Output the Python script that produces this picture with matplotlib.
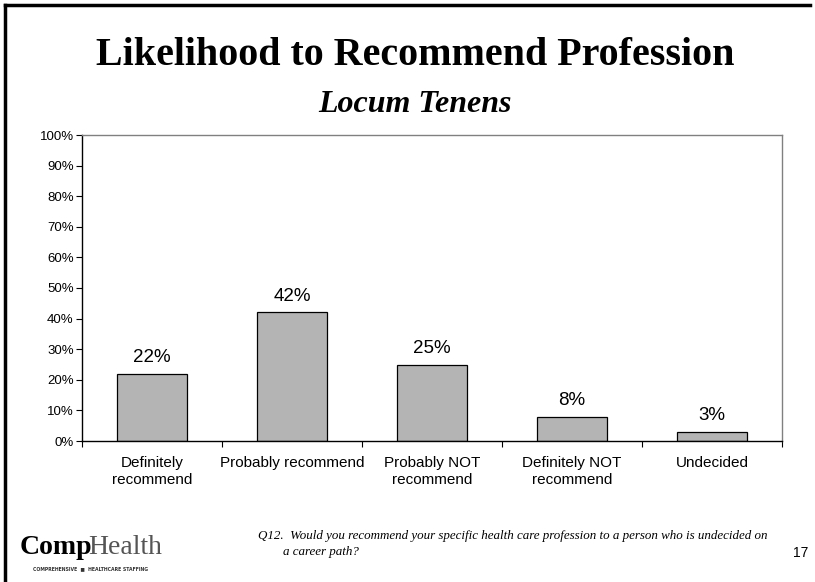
import matplotlib
matplotlib.use("Agg")
import matplotlib.pyplot as plt
from matplotlib.ticker import PercentFormatter
from matplotlib.lines import Line2D

# --- Data ---
categories = ["Definitely\nrecommend", "Probably recommend", "Probably NOT\nrecommend",
              "Definitely NOT\nrecommend", "Undecided"]
values = [22, 42, 25, 8, 3]
yticks = list(range(0, 101, 10))

W, H = 815, 582
fig = plt.figure(figsize=(W / 100, H / 100), dpi=100)
fig.patch.set_facecolor("white")

# --- Slide border (left and top only) ---
fig.add_artist(Line2D([5 / W, 5 / W], [0, 1 - 5 / H], color="black", lw=2.5))
fig.add_artist(Line2D([5 / W, 810 / W], [1 - 5 / H, 1 - 5 / H], color="black", lw=2.5))

# --- Titles ---
fig.text(415 / W, 1 - 65 / H, "Likelihood to Recommend Profession", ha="center", va="baseline",
         fontsize=28.8, fontweight="bold", family="Liberation Serif")
fig.text(415 / W, 1 - 112 / H, "Locum Tenens", ha="center", va="baseline",
         fontsize=23, fontweight="bold", fontstyle="italic", family="Liberation Serif")

# --- Chart ---
left, right, top, bottom = 82, 782, 135, 441
ax = fig.add_axes([left / W, 1 - bottom / H, (right - left) / W, (bottom - top) / H])
x = list(range(len(values)))
ax.bar(x, values, width=0.5, color="#b4b4b4", edgecolor="black", linewidth=0.9)
for xi, v in zip(x, values):
    ax.text(xi, v + 2.6, f"{v}%", ha="center", va="bottom", fontsize=13.5,
            family="Liberation Sans")

ax.set_xlim(-0.5, len(values) - 0.5)
ax.set_ylim(0, 100)
ax.set_yticks(yticks)
ax.yaxis.set_major_formatter(PercentFormatter(decimals=0))
ax.set_xticks([i - 0.5 for i in range(len(values) + 1)])
ax.set_xticklabels([])
ax.set_xticks(x, minor=True)
ax.set_xticklabels(categories, minor=True, fontsize=11, family="Liberation Sans",
                   linespacing=1.25)
ax.tick_params(axis="x", which="minor", length=0, pad=11)
ax.tick_params(axis="x", which="major", length=4, direction="out", width=0.8)
ax.tick_params(axis="y", length=4, direction="out", width=0.8, labelsize=9.5, pad=2)
for lab in ax.get_yticklabels():
    lab.set_family("Liberation Sans")

for s in ["left", "bottom"]:
    ax.spines[s].set_color("black")
    ax.spines[s].set_linewidth(1.0)
for s in ["top", "right"]:
    ax.spines[s].set_color("#808080")
    ax.spines[s].set_linewidth(1.0)

# --- Footer ---
fig.text(20 / W, 1 - 554 / H, "Comp", ha="left", va="baseline", fontsize=20,
         fontweight="bold", family="Liberation Serif")
fig.text(88 / W, 1 - 554 / H, "Health", ha="left", va="baseline", fontsize=20,
         family="Liberation Serif", color="#555555")
fig.text(33 / W, 1 - 569 / H, "COMPREHENSIVE  \u25a0  HEALTHCARE STAFFING", ha="left",
         va="center", fontsize=3.3, family="DejaVu Sans", fontweight="bold", color="#333333")

fig.text(258 / W, 1 - 536 / H,
         "Q12.  Would you recommend your specific health care profession to a person who is undecided on",
         ha="left", va="center", fontsize=9.4, fontstyle="italic", family="Liberation Serif")
fig.text(283 / W, 1 - 552 / H, "a career path?", ha="left", va="center", fontsize=9.4,
         fontstyle="italic", family="Liberation Serif")
fig.text(808 / W, 1 - 553 / H, "17", ha="right", va="center", fontsize=10,
         family="Liberation Sans")

fig.savefig("out.png", dpi=100)
